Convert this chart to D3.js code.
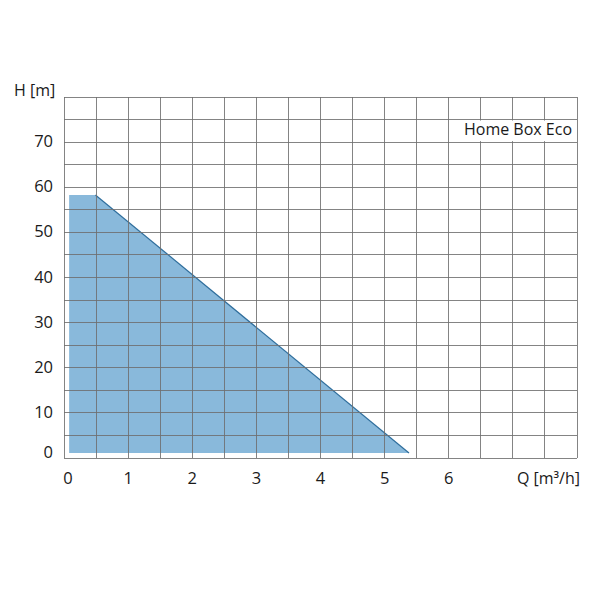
<!DOCTYPE html>
<html><head><meta charset="utf-8">
<script src="https://cdn.jsdelivr.net/npm/d3@7"></script>
<style>body{margin:0;background:#fff}svg text{font-family:"Open Sans","Noto Sans",sans-serif;fill:#1a1a1a}</style>
</head><body><svg id="c" width="600" height="600"></svg>
<script>
const xTicks = [0,1,2,3,4,5,6];
const yTicks = [0,10,20,30,40,50,60,70];
const curveQ = [0.08, 0.49, 5.38, 0.08];
const curveH = [58.3, 58.3, 1.1, 1.1];
const title = "Home Box Eco";
const xLabel = "Q [m³/h]";
const yLabel = "H [m]";

const svg = d3.select("#c");
const L=64, R=577, T=97, B=458;
const x = d3.scaleLinear().domain([0,8]).range([L,R]);
const y = d3.scaleLinear().domain([0,80]).range([B,T]);

const g = svg.append("g");
const pts = curveQ.map((q,i)=>[x(q), y(curveH[i])]);
g.append("path").attr("d", d3.line()(pts)+"Z").attr("fill","#89b9db").attr("stroke","none");
g.append("path").attr("d", d3.line()([pts[1],pts[2]])).attr("fill","none").attr("stroke","#2f6e9c").attr("stroke-width",1.2);

const gx = d3.range(0,8.01,0.5), gy = d3.range(0,80.1,5);
g.selectAll(".vx").data(gx).enter().append("line")
 .attr("x1",d=>x(d)).attr("x2",d=>x(d)).attr("y1",T).attr("y2",B)
 .attr("stroke","#6f6f6f").attr("stroke-width",1).attr("shape-rendering","crispEdges").attr("opacity",0.85);
g.selectAll(".hy").data(gy).enter().append("line")
 .attr("y1",d=>y(d)).attr("y2",d=>y(d)).attr("x1",L).attr("x2",R)
 .attr("stroke","#6f6f6f").attr("stroke-width",1).attr("shape-rendering","crispEdges").attr("opacity",0.85);

// title box (white background over grid)
g.append("rect").attr("x",x(6.2)).attr("y",y(75)+1).attr("width",R-x(6.2)-0.5).attr("height",y(70)-y(75)-2).attr("fill","#fff");

g.selectAll(".xt").data(xTicks).enter().append("text")
 .attr("x",d=>x(d)+(d===0?4:0)).attr("y",484).attr("text-anchor","middle").attr("font-size",16.5).text(d=>d);
g.selectAll(".yt").data(yTicks).enter().append("text")
 .attr("x",53).attr("y",d=>y(d)+(d===0?0:5)).attr("text-anchor","end").attr("font-size",16.5).text(d=>d);

svg.append("text").attr("x",14).attr("y",96).attr("font-size",16).text(yLabel);
svg.append("text").attr("x",580).attr("y",484).attr("text-anchor","end").attr("font-size",16).text(xLabel);
svg.append("text").attr("x",572).attr("y",135).attr("text-anchor","end").attr("font-size",16).text(title);
</script></body></html>
